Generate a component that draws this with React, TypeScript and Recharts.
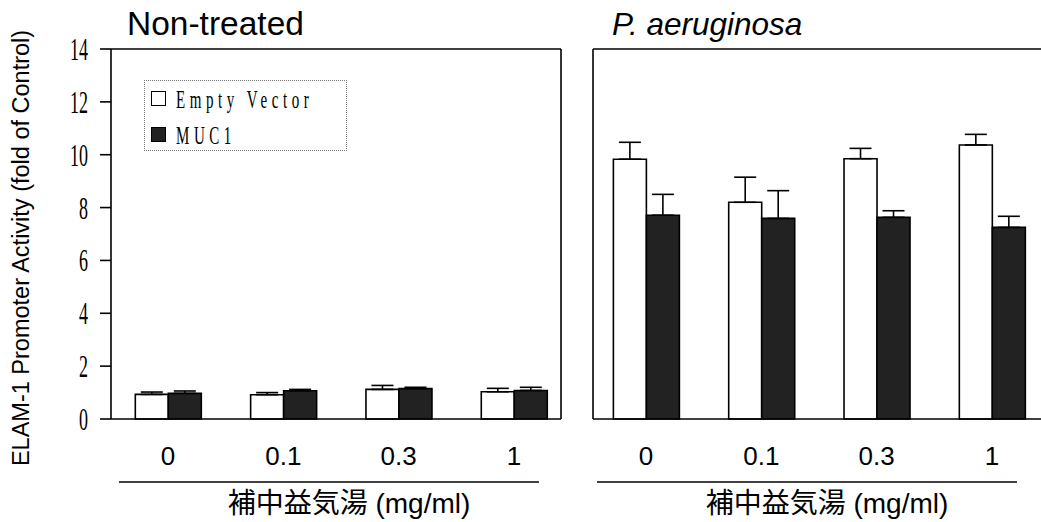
import React from 'react';
import { BarChart, Bar, XAxis, YAxis, ErrorBar, Legend } from 'recharts';

const categories = ['0', '0.1', '0.3', '1'];
const nonTreatedEmpty = [0.93, 0.92, 1.12, 1.03];
const nonTreatedEmptyErr = [0.09, 0.08, 0.15, 0.13];
const nonTreatedMuc = [0.97, 1.07, 1.15, 1.08];
const nonTreatedMucErr = [0.09, 0.05, 0.05, 0.12];
const paEmpty = [9.83, 8.2, 9.85, 10.37];
const paEmptyErr = [0.64, 0.95, 0.39, 0.4];
const paMuc = [7.71, 7.59, 7.63, 7.25];
const paMucErr = [0.79, 1.05, 0.25, 0.42];
const yTicks = [0, 2, 4, 6, 8, 10, 12, 14];
const seriesNames = ['Empty Vector', 'MUC1'];
const panelTitles = ['Non-treated', 'P. aeruginosa'];
const xTitle = '補中益気湯 (mg/ml)';
const yTitle = 'ELAM-1 Promoter Activity (fold of Control)';

const build = (a: number[], ae: number[], b: number[], be: number[]) =>
  categories.map((c, i) => ({
    idx: i,
    cat: c,
    ev: a[i],
    evErr: [0, ae[i]],
    muc: b[i],
    mucErr: [0, be[i]],
  }));

const leftData = build(nonTreatedEmpty, nonTreatedEmptyErr, nonTreatedMuc, nonTreatedMucErr);
const rightData = build(paEmpty, paEmptyErr, paMuc, paMucErr);

const DARK = '#222222';
const SW = 1.6;
const SANS = '"Liberation Sans", Arial, "Noto Sans CJK JP", sans-serif';
const SERIF = '"Liberation Serif", "Times New Roman", serif';

const YTick = (props: any) => {
  const { x, y, payload } = props;
  return (
    <g transform={`translate(${x},${y})`}>
      <text
        transform="scale(0.58,1)"
        textAnchor="end"
        dominantBaseline="central"
        fontFamily={SERIF}
        fontSize={31}
        fill="#000"
      >
        {payload.value}
      </text>
    </g>
  );
};

const XTick = (props: any) => {
  const { x, y, payload } = props;
  return (
    <text
      x={x}
      y={y}
      dy={37}
      textAnchor="middle"
      dominantBaseline="central"
      fontFamily={SANS}
      fontSize={26}
      fill="#000"
    >
      {categories[payload.value]}
    </text>
  );
};

const makeXLabel = (domain: [number, number]) => (props: any) => {
  const vb = props.viewBox || {};
  const px = (v: number) => vb.x + ((v - domain[0]) / (domain[1] - domain[0])) * vb.width;
  const mid = px(1.5);
  return (
    <g>
      <line x1={mid - 222} x2={mid + 198} y1={482} y2={482} stroke="#000" strokeWidth={1.3} />
      <text
        x={mid + 8}
        y={503}
        textAnchor="middle"
        dominantBaseline="central"
        fontFamily={SANS}
        fontSize={28}
        fill="#000"
      >
        {xTitle}
      </text>
    </g>
  );
};

const LegendContent = () => (
  <div
    style={{
      position: 'relative',
      width: 203,
      height: 71,
      border: '1px dotted #777',
      boxSizing: 'border-box',
      background: '#fff',
    }}
  >
    {seriesNames.map((n, i) => (
      <div key={n}>
        <div
          style={{
            position: 'absolute',
            left: 6,
            top: 10 + i * 36,
            width: 15,
            height: 15,
            boxSizing: 'border-box',
            border: '1.5px solid #000',
            background: i === 0 ? '#fff' : DARK,
          }}
        />
        <div
          style={{
            position: 'absolute',
            left: 31,
            top: 6 + i * 36,
            fontFamily: SERIF,
            fontSize: 25,
            lineHeight: '25px',
            letterSpacing: '7.6px',
            whiteSpace: 'nowrap',
            transform: 'scaleX(0.6)',
            transformOrigin: 'left center',
            color: '#000',
          }}
        >
          {n}
        </div>
      </div>
    ))}
  </div>
);

const LEFT_DOMAIN: [number, number] = [-0.494, 3.408];
const RIGHT_DOMAIN: [number, number] = [-0.46, 3.425];

export default function App() {
  return (
    <div
      style={{
        position: 'absolute',
        left: 0,
        top: 0,
        width: 1041,
        height: 522,
        background: '#fff',
        overflow: 'hidden',
      }}
    >
      <div style={{ position: 'absolute', left: 0, top: 0 }}>
        <BarChart
          width={575}
          height={522}
          data={leftData}
          margin={{ top: 48, right: 13, bottom: 0, left: 0 }}
          barGap={0}
        >
          <XAxis
            dataKey="idx"
            type="number"
            domain={LEFT_DOMAIN}
            ticks={[0, 1, 2, 3]}
            height={103}
            tickLine={false}
            tickSize={0}
            tickMargin={0}
            tick={<XTick />}
            axisLine={{ stroke: '#000', strokeWidth: SW }}
            allowDataOverflow
            label={{ content: makeXLabel(LEFT_DOMAIN) } as any}
          />
          <XAxis
            xAxisId="top"
            orientation="top"
            dataKey="idx"
            type="number"
            domain={LEFT_DOMAIN}
            height={1}
            tick={false}
            tickLine={false}
            axisLine={{ stroke: '#000', strokeWidth: SW }}
            allowDataOverflow
          />
          <YAxis
            domain={[0, 14]}
            ticks={yTicks}
            width={111}
            tickSize={11}
            tickMargin={12}
            tick={<YTick />}
            tickLine={{ stroke: '#000', strokeWidth: SW }}
            axisLine={{ stroke: '#000', strokeWidth: SW }}
            interval={0}
          />
          <YAxis
            yAxisId="right"
            orientation="right"
            domain={[0, 14]}
            width={1}
            tick={false}
            tickLine={false}
            axisLine={{ stroke: '#000', strokeWidth: SW }}
          />
          <Legend
            layout="horizontal"
            verticalAlign="middle"
            align="center"
            wrapperStyle={{ left: 144, top: 80, width: 203, height: 71 }}
            content={<LegendContent />}
          />
          <Bar dataKey="ev" name={seriesNames[0]} barSize={33} fill="#fff" stroke="#000" strokeWidth={SW} isAnimationActive={false}>
            <ErrorBar dataKey="evErr" width={11} stroke="#000" strokeWidth={SW} direction="y" />
          </Bar>
          <Bar dataKey="muc" name={seriesNames[1]} barSize={33} fill={DARK} stroke="#000" strokeWidth={SW} isAnimationActive={false}>
            <ErrorBar dataKey="mucErr" width={11} stroke="#000" strokeWidth={SW} direction="y" />
          </Bar>
        </BarChart>
      </div>

      <div style={{ position: 'absolute', left: 0, top: 0 }}>
        <BarChart
          width={1041}
          height={522}
          data={rightData}
          margin={{ top: 48, right: 0, bottom: 0, left: 583 }}
          barGap={0}
        >
          <XAxis
            dataKey="idx"
            type="number"
            domain={RIGHT_DOMAIN}
            ticks={[0, 1, 2, 3]}
            height={103}
            tickLine={false}
            tickSize={0}
            tickMargin={0}
            tick={<XTick />}
            axisLine={{ stroke: '#000', strokeWidth: SW }}
            allowDataOverflow
            label={{ content: makeXLabel(RIGHT_DOMAIN) } as any}
          />
          <XAxis
            xAxisId="top"
            orientation="top"
            dataKey="idx"
            type="number"
            domain={RIGHT_DOMAIN}
            height={1}
            tick={false}
            tickLine={false}
            axisLine={{ stroke: '#000', strokeWidth: SW }}
            allowDataOverflow
          />
          <YAxis
            domain={[0, 14]}
            ticks={yTicks}
            width={10}
            tick={false}
            tickLine={false}
            axisLine={{ stroke: '#000', strokeWidth: SW }}
          />
          <Bar dataKey="ev" name={seriesNames[0]} barSize={33} fill="#fff" stroke="#000" strokeWidth={SW} isAnimationActive={false}>
            <ErrorBar dataKey="evErr" width={11} stroke="#000" strokeWidth={SW} direction="y" />
          </Bar>
          <Bar dataKey="muc" name={seriesNames[1]} barSize={33} fill={DARK} stroke="#000" strokeWidth={SW} isAnimationActive={false}>
            <ErrorBar dataKey="mucErr" width={11} stroke="#000" strokeWidth={SW} direction="y" />
          </Bar>
        </BarChart>
      </div>

      <svg
        width={1041}
        height={522}
        style={{ position: 'absolute', left: 0, top: 0, pointerEvents: 'none' }}
      >
        <text x={127} y={35} fontFamily={SANS} fontSize={33.5} fill="#000">
          {panelTitles[0]}
        </text>
        <text x={612} y={35} fontFamily={SANS} fontSize={31.5} fontStyle="italic" fill="#000">
          {panelTitles[1]}
        </text>
        <text
          transform="translate(21,248) rotate(-90)"
          textAnchor="middle"
          dominantBaseline="central"
          fontFamily={SANS}
          fontSize={23.5}
          fill="#000"
        >
          {yTitle}
        </text>
      </svg>
    </div>
  );
}
